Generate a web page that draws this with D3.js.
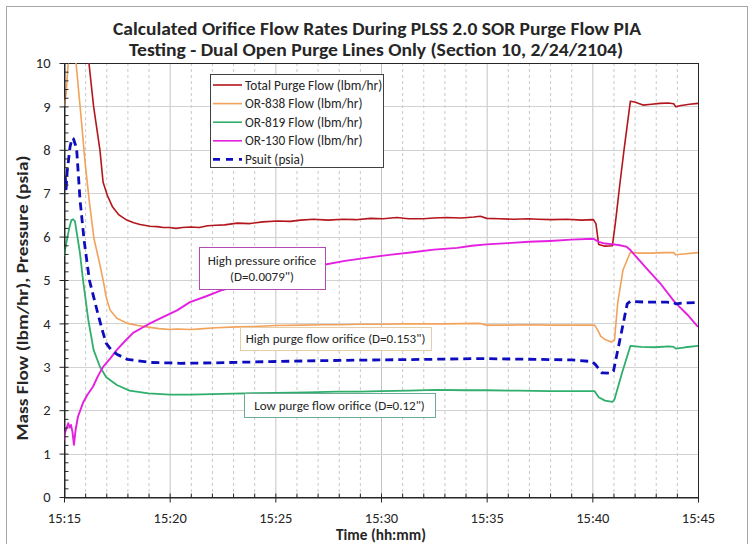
<!DOCTYPE html>
<html>
<head>
<meta charset="utf-8">
<script src="https://cdn.jsdelivr.net/npm/d3@7"></script>
<style>
  html, body { margin: 0; padding: 0; background: #fff; }
  svg { display: block; font-family: Carlito, Lato, "Open Sans", sans-serif; }
</style>
</head>
<body>
<svg id="chart" width="752" height="544"></svg>
<script>
// Minutes after 15:15 paired with the measured value
const timeLabels = ["15:15", "15:20", "15:25", "15:30", "15:35", "15:40", "15:45"];
const timeTicks = [0, 5, 10, 15, 20, 25, 30];
const yTicks = [0, 1, 2, 3, 4, 5, 6, 7, 8, 9, 10];

const totalPurge = [
  [0, 11.2], [0.5, 11.8], [1.0, 10.6], [1.18, 10.0], [1.4, 9.0], [1.7, 8.0], [1.85, 7.25],
  [2.05, 6.95], [2.3, 6.68], [2.6, 6.5], [2.97, 6.38], [3.3, 6.32], [3.6, 6.28], [4.07, 6.24],
  [4.4, 6.23], [4.7, 6.21], [5.0, 6.21], [5.3, 6.19], [5.6, 6.21], [6.0, 6.22], [6.4, 6.21],
  [6.8, 6.25], [7.2, 6.26], [7.6, 6.27], [8.2, 6.31], [8.8, 6.3], [9.4, 6.34], [10.1, 6.36],
  [10.7, 6.35], [11.2, 6.38], [11.8, 6.4], [12.5, 6.38], [13.2, 6.4], [13.8, 6.39], [14.5, 6.42],
  [15.1, 6.41], [15.75, 6.44], [16.3, 6.41], [17.0, 6.41], [17.5, 6.43], [18.1, 6.44], [18.8, 6.43],
  [19.4, 6.45], [19.7, 6.47], [20.0, 6.42], [20.6, 6.41], [21.3, 6.4], [22.0, 6.41], [22.4, 6.4],
  [23.1, 6.39], [23.8, 6.4], [24.5, 6.38], [25.05, 6.39], [25.17, 6.3], [25.3, 5.82], [25.6, 5.78],
  [25.95, 5.79], [26.1, 6.35], [26.3, 7.2], [26.5, 8.0], [26.8, 9.12], [27.0, 9.1], [27.4, 9.03],
  [27.8, 9.05], [28.2, 9.07], [28.6, 9.08], [28.85, 9.06], [28.95, 8.99], [29.2, 9.02], [29.6, 9.05],
  [30.0, 9.07]
];

const or838 = [
  [0, 9.0], [0.1, 9.3], [0.2, 10.0], [0.35, 10.8], [0.45, 10.8], [0.57, 10.0], [0.8, 8.8],
  [1.0, 7.7], [1.2, 6.8], [1.42, 5.95], [1.65, 5.46], [1.85, 5.0], [2.0, 4.6], [2.18, 4.31],
  [2.5, 4.12], [3.0, 4.0], [3.5, 3.95], [3.9, 3.92], [4.5, 3.88], [5.0, 3.86], [5.35, 3.87],
  [6.0, 3.86], [6.6, 3.88], [7.2, 3.9], [8.2, 3.92], [9.0, 3.93], [10.0, 3.95], [11.3, 3.96],
  [12.2, 3.97], [13.0, 3.97], [14.0, 3.98], [15.0, 3.98], [16.0, 3.99], [17.0, 3.99], [18.0, 3.99],
  [19.7, 4.0], [20.0, 3.96], [21.0, 3.96], [22.0, 3.97], [23.0, 3.96], [24.0, 3.96], [25.1, 3.96],
  [25.25, 3.85], [25.4, 3.7], [25.6, 3.63], [25.9, 3.57], [26.05, 3.62], [26.2, 4.47], [26.45, 5.23],
  [26.8, 5.64], [27.2, 5.62], [27.8, 5.62], [28.5, 5.63], [28.85, 5.63], [28.95, 5.58], [29.3, 5.6],
  [30.0, 5.63]
];

const or819 = [
  [0, 5.55], [0.05, 5.7], [0.15, 5.95], [0.25, 6.2], [0.35, 6.38], [0.43, 6.4], [0.52, 6.35],
  [0.6, 6.1], [0.66, 5.92], [0.76, 5.6], [0.9, 5.0], [1.15, 4.08], [1.4, 3.39], [1.7, 3.0],
  [2.0, 2.76], [2.5, 2.58], [3.1, 2.45], [4.0, 2.39], [5.0, 2.36], [6.0, 2.36], [7.0, 2.37],
  [8.0, 2.38], [9.0, 2.39], [10.0, 2.4], [11.5, 2.41], [12.9, 2.43], [14.0, 2.43], [15.0, 2.44],
  [16.3, 2.45], [17.6, 2.47], [19.0, 2.46], [20.0, 2.46], [21.5, 2.45], [23.0, 2.44], [25.1, 2.44],
  [25.3, 2.3], [25.6, 2.22], [25.95, 2.19], [26.05, 2.25], [26.4, 2.85], [26.8, 3.48], [27.3, 3.46],
  [28.0, 3.45], [28.6, 3.47], [28.85, 3.46], [28.95, 3.42], [29.4, 3.45], [30.0, 3.48]
];

const or130 = [
  [0, 1.3], [0.03, 1.47], [0.1, 1.55], [0.2, 1.7], [0.27, 1.6], [0.33, 1.66], [0.4, 1.5],
  [0.47, 1.2], [0.55, 1.55], [0.66, 1.85], [0.9, 2.17], [1.1, 2.35], [1.37, 2.54], [1.6, 2.78],
  [1.85, 3.0], [2.2, 3.2], [2.5, 3.39], [2.9, 3.6], [3.27, 3.78], [3.7, 3.9], [4.07, 4.0],
  [4.7, 4.15], [5.35, 4.3], [5.96, 4.49], [6.7, 4.62], [7.5, 4.77], [8.5, 4.92], [9.5, 5.05],
  [10.5, 5.17], [11.3, 5.27], [12.3, 5.35], [13.3, 5.44], [14.3, 5.51], [15.4, 5.58], [16.5, 5.64],
  [17.5, 5.7], [18.6, 5.74], [19.3, 5.79], [20.0, 5.82], [21.0, 5.85], [22.0, 5.88], [23.0, 5.9],
  [24.0, 5.93], [25.05, 5.95], [25.3, 5.88], [25.6, 5.84], [26.0, 5.82], [26.3, 5.8], [26.6, 5.77],
  [26.8, 5.69], [27.5, 5.3], [28.2, 4.93], [28.9, 4.49], [29.5, 4.2], [30.0, 3.92]
];

const psuit = [
  [0, 7.2], [0.05, 7.45], [0.1, 7.1], [0.15, 7.5], [0.2, 7.7], [0.28, 8.05], [0.38, 8.27],
  [0.45, 8.25], [0.55, 8.1], [0.6, 8.0], [0.76, 6.84], [0.95, 5.92], [1.2, 5.0], [1.6, 4.23],
  [1.85, 3.78], [2.0, 3.54], [2.25, 3.38], [2.5, 3.29], [3.0, 3.17], [4.07, 3.1], [5.0, 3.09],
  [5.5, 3.08], [7.0, 3.09], [9.75, 3.12], [12.0, 3.14], [15.0, 3.16], [17.0, 3.17], [19.7, 3.19],
  [21.0, 3.18], [24.0, 3.16], [25.0, 3.12], [25.15, 3.05], [25.45, 2.86], [25.9, 2.85], [26.0, 2.9],
  [26.4, 3.85], [26.65, 4.45], [26.8, 4.51], [27.5, 4.49], [28.5, 4.49], [28.85, 4.48], [28.95, 4.45],
  [29.3, 4.47], [30.0, 4.48]
];

const seriesNames = ["Total Purge Flow (lbm/hr)", "OR-838 Flow (lbm/hr)", "OR-819 Flow (lbm/hr)", "OR-130 Flow (lbm/hr)", "Psuit (psia)"];

const series = [
  { name: seriesNames[0], data: totalPurge, color: "#b3161c", width: 1.6, dash: null },
  { name: seriesNames[1], data: or838, color: "#f2a25a", width: 1.6, dash: null },
  { name: seriesNames[2], data: or819, color: "#2fae6c", width: 1.8, dash: null },
  { name: seriesNames[3], data: or130, color: "#e51fe0", width: 1.9, dash: null },
  { name: seriesNames[4], data: psuit, color: "#0d0dbf", width: 2.8, dash: "8,5" }
];

const svg = d3.select("#chart");
const W = 752, H = 544;
const plot = { left: 64, right: 698, top: 63, bottom: 497 };
const textColor = "#262626";

// outer chart frame
svg.append("rect").attr("x", 6.5).attr("y", 6.5).attr("width", W - 11).attr("height", H + 10)
  .attr("fill", "#fff").attr("stroke", "#a6a6a6").attr("stroke-width", 1);

const x = d3.scaleLinear().domain([0, 30]).range([plot.left, plot.right]);
const y = d3.scaleLinear().domain([0, 10]).range([plot.bottom, plot.top]);

// minor vertical grid every minute (dashed)
const minuteTicks = d3.range(0, 31).filter(m => m % 5 !== 0);
svg.append("g").selectAll("line").data(minuteTicks).join("line")
  .attr("x1", d => x(d) + 0.5).attr("x2", d => x(d) + 0.5)
  .attr("y1", plot.top).attr("y2", plot.bottom)
  .attr("stroke", "#c9c9c9").attr("stroke-dasharray", "3,3").attr("stroke-width", 1);

// major grid
svg.append("g").selectAll("line").data(timeTicks).join("line")
  .attr("x1", d => x(d) + 0.5).attr("x2", d => x(d) + 0.5)
  .attr("y1", plot.top).attr("y2", plot.bottom)
  .attr("stroke", "#c4c4c4").attr("stroke-width", 1);
svg.append("g").selectAll("line").data(yTicks).join("line")
  .attr("x1", plot.left).attr("x2", plot.right)
  .attr("y1", d => Math.round(y(d)) + 0.5).attr("y2", d => Math.round(y(d)) + 0.5)
  .attr("stroke", "#d2d2d2").attr("stroke-width", 1);

// plot border
svg.append("rect").attr("x", plot.left + 0.5).attr("y", plot.top + 0.5)
  .attr("width", plot.right - plot.left).attr("height", plot.bottom - plot.top)
  .attr("fill", "none").attr("stroke", textColor).attr("stroke-width", 1);

// series lines, clipped to the plot area
svg.append("clipPath").attr("id", "clip").append("rect")
  .attr("x", plot.left).attr("y", plot.top)
  .attr("width", plot.right - plot.left).attr("height", plot.bottom - plot.top);

const line = d3.line().x(d => x(d[0])).y(d => y(d[1]));
const lines = svg.append("g").attr("clip-path", "url(#clip)");
series.forEach(s => {
  lines.append("path").datum(s.data)
    .attr("d", line)
    .attr("fill", "none")
    .attr("stroke", s.color)
    .attr("stroke-width", s.width)
    .attr("stroke-linejoin", "round")
    .attr("stroke-dasharray", s.dash);
});

// axes
const xAxis = svg.append("g").attr("transform", `translate(0,${plot.bottom + 0.5})`)
  .call(d3.axisBottom(x).tickValues(timeTicks).tickFormat((d, i) => timeLabels[i])
    .tickSize(5).tickSizeOuter(0).tickPadding(10));
xAxis.selectAll(".tick line").attr("y1", -4).attr("y2", 5);
const xMinor = svg.append("g").attr("transform", `translate(0,${plot.bottom + 0.5})`)
  .call(d3.axisBottom(x).tickValues(minuteTicks).tickFormat("").tickSize(-4).tickSizeOuter(0));
xMinor.select(".domain").remove();

const yAxis = svg.append("g").attr("transform", `translate(${plot.left + 0.5},0)`)
  .call(d3.axisLeft(y).tickValues(yTicks).tickFormat(d3.format("d"))
    .tickSize(5).tickSizeOuter(0).tickPadding(9));
yAxis.selectAll(".tick line").attr("x1", 4).attr("x2", -5);
const yMinorVals = d3.range(0, 50).filter(i => i % 5 !== 0).map(i => i / 5);
const yMinor = svg.append("g").attr("transform", `translate(${plot.left + 0.5},0)`)
  .call(d3.axisLeft(y).tickValues(yMinorVals).tickFormat("").tickSize(-4).tickSizeOuter(0));
yMinor.select(".domain").remove();

[xAxis, yAxis, xMinor, yMinor].forEach(g => {
  g.selectAll(".domain").attr("stroke", textColor);
  g.selectAll(".tick line").attr("stroke", textColor);
  g.selectAll("text").attr("font-family", "Carlito, Lato, sans-serif")
    .attr("font-size", 14.5).attr("fill", textColor);
});

// titles
const title = svg.append("text").attr("text-anchor", "middle")
  .attr("font-weight", "bold").attr("font-size", 19).attr("fill", textColor);
title.append("tspan").attr("x", 377).attr("y", 35)
  .attr("textLength", 528).attr("lengthAdjust", "spacingAndGlyphs")
  .text("Calculated Orifice Flow Rates During PLSS 2.0 SOR Purge Flow PIA");
title.append("tspan").attr("x", 376).attr("y", 56)
  .attr("textLength", 494).attr("lengthAdjust", "spacingAndGlyphs")
  .text("Testing - Dual Open Purge Lines Only (Section 10, 2/24/2104)");

svg.append("text").attr("x", 381).attr("y", 540).attr("text-anchor", "middle")
  .attr("font-weight", "bold").attr("font-size", 15).attr("fill", textColor)
  .attr("textLength", 90).attr("lengthAdjust", "spacingAndGlyphs")
  .text("Time (hh:mm)");

svg.append("text").attr("transform", `translate(28,298) rotate(-90)`)
  .attr("text-anchor", "middle").attr("font-weight", "bold").attr("font-size", 15)
  .attr("textLength", 285).attr("lengthAdjust", "spacingAndGlyphs")
  .attr("fill", textColor).text("Mass Flow (lbm/hr), Pressure (psia)");

// legend
const legend = svg.append("g");
legend.append("rect").attr("x", 210.5).attr("y", 74.5).attr("width", 173).attr("height", 93)
  .attr("fill", "#fff").attr("stroke", "#404040").attr("stroke-width", 1);
series.forEach((s, i) => {
  const ly = 85 + i * 18.6;
  legend.append("line").attr("x1", 213).attr("x2", 242).attr("y1", ly).attr("y2", ly)
    .attr("stroke", s.color).attr("stroke-width", s.dash ? 2.6 : 1.6)
    .attr("stroke-dasharray", s.dash ? "7,6" : null);
  legend.append("text").attr("x", 245).attr("y", ly + 4.5).attr("font-size", 13.3)
    .attr("fill", textColor).text(s.name);
});

// annotation call-outs
const notes = [
  { lines: ["High pressure orifice", "(D=0.0079\")"], x: 199, y: 247, w: 126, h: 42, border: "#b34ab3" },
  { lines: ["High purge flow orifice (D=0.153\")"], x: 240, y: 327, w: 191, h: 23, border: "#e6cda8" },
  { lines: ["Low purge flow orifice (D=0.12\")"], x: 244, y: 393, w: 191, h: 24, border: "#6aab93" }
];
notes.forEach(n => {
  svg.append("rect").attr("x", n.x + 0.5).attr("y", n.y + 0.5).attr("width", n.w).attr("height", n.h)
    .attr("fill", "#fff").attr("stroke", n.border).attr("stroke-width", 1);
  const lh = 16;
  const y0 = n.y + n.h / 2 - (n.lines.length - 1) * lh / 2 + 4.5;
  n.lines.forEach((t, i) => {
    svg.append("text").attr("x", n.x + n.w / 2).attr("y", y0 + i * lh)
      .attr("text-anchor", "middle").attr("font-size", 13).attr("fill", textColor).text(t);
  });
});
</script>
</body>
</html>
